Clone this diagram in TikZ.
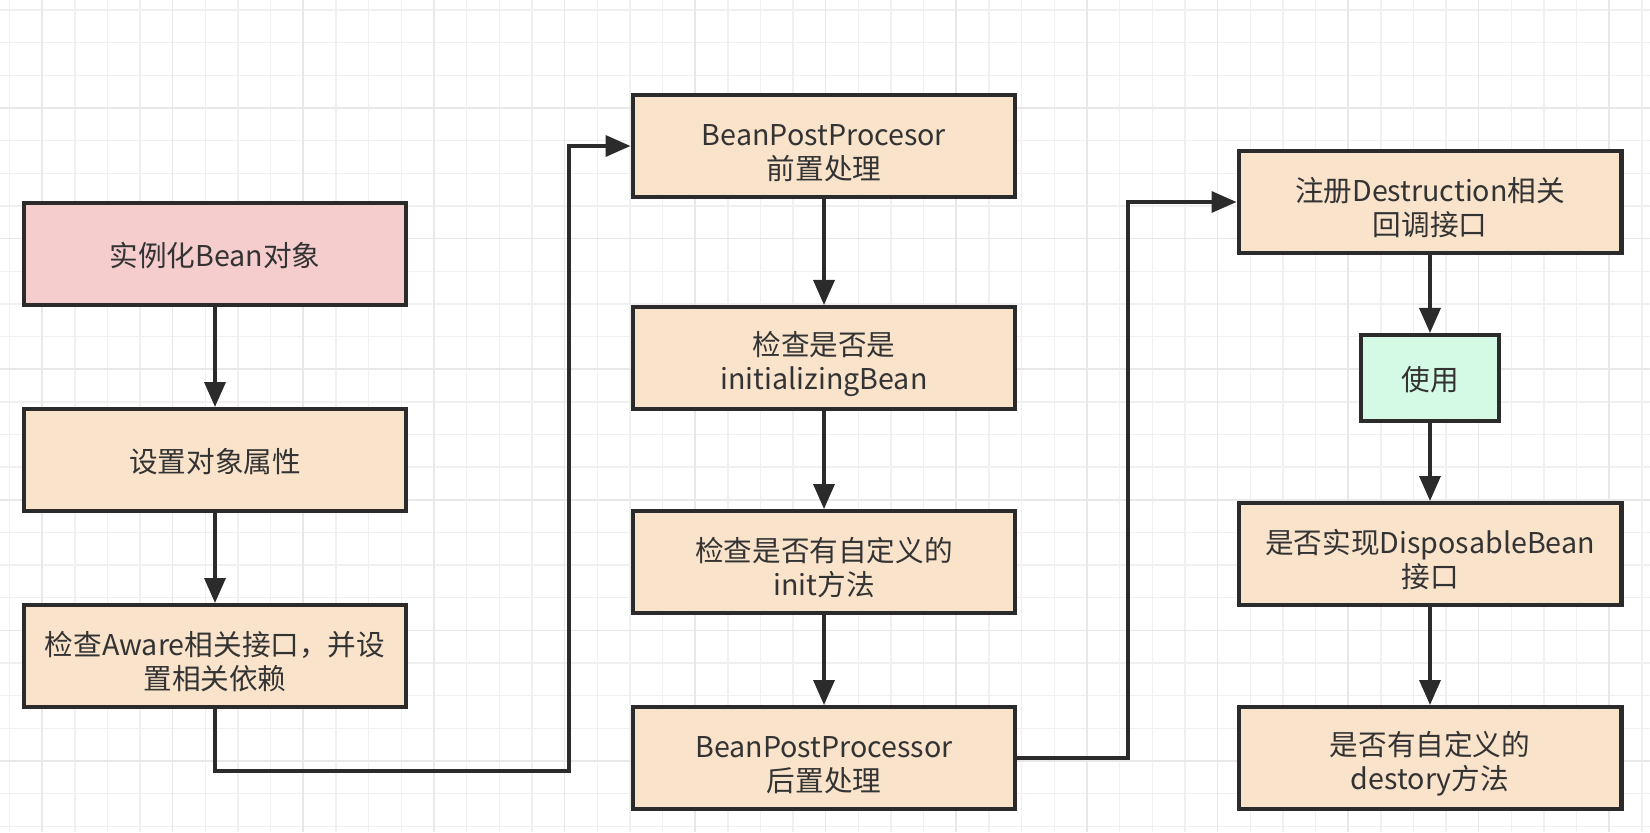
\documentclass[tikz,border=0pt]{standalone}
\usepackage{fontspec}
\setmainfont{Noto Sans CJK SC}
\usepackage{tikz}
\usetikzlibrary{arrows.meta}
\definecolor{peach}{HTML}{F9E3CB}
\definecolor{rose}{HTML}{F5CDCC}
\definecolor{mint}{HTML}{D4F9E4}
\definecolor{boxLine}{HTML}{2B2B2B}
\definecolor{textGray}{HTML}{333333}
\definecolor{gridMinor}{HTML}{F0F0F0}
\definecolor{gridMajor}{HTML}{E8E8E8}
\tikzset{
  every picture/.style={font={\fontsize{16.3pt}{19.5pt}\selectfont}, >={Triangle[length=5mm,width=4.2mm]}}}

\begin{document}
\begin{tikzpicture}[
    x=0.02cm, y=-0.02cm,
    beanBox/.style={
      draw=boxLine, line width=2.3pt,
      fill=peach, text=textGray,
      align=center, inner sep=0pt,
      text height=16pt,
      minimum width=7.66cm,
      minimum height=2.04cm},
    twoLines/.style={text height=40pt},
    startBox/.style={beanBox, fill=rose},
    useBox/.style={beanBox, fill=mint,
      minimum width=2.76cm, minimum height=1.72cm},
    flow/.style={->, draw=boxLine, line width=2pt},
    minorLine/.style={draw=gridMinor, line width=0.8pt},
    majorLine/.style={draw=gridMajor, line width=0.9pt}]

    \useasboundingbox (0,0) rectangle (1650,832);
    \fill[white] (0,0) rectangle (1650,832);

    \foreach \i in {0,...,50}
      \draw[minorLine] ({9.5+32.65*\i},0) -- ++(0,832);
    \foreach \i in {0,...,25}
      \draw[minorLine] (0,{10+32.65*\i}) -- ++(1650,0);
    \foreach \i in {0,...,12}
      \draw[majorLine] ({42+130.6*\i},0) -- ++(0,832);
    \foreach \i in {0,...,6}
      \draw[majorLine] (0,{108+130.6*\i}) -- ++(1650,0);

    \node[startBox] (inst) at (215, 254) {实例化Bean对象};
    \node[beanBox] (props) at (215, 460) {设置对象属性};
    \node[beanBox, twoLines] (aware) at (215, 656) {检查Aware相关接口，并设\\置相关依赖};

    \node[beanBox, twoLines] (preProc) at (824, 146) {BeanPostProcesor\\前置处理};
    \node[beanBox, twoLines] (initBean) at (824, 358) {检查是否是\\initializingBean};
    \node[beanBox, twoLines] (initMethod) at (824, 562) {检查是否有自定义的\\init方法};
    \node[beanBox, twoLines] (postProc) at (824, 758) {BeanPostProcessor\\后置处理};

    \node[beanBox, twoLines] (destr) at (1430, 202) {注册Destruction相关\\回调接口};
    \node[useBox] (use) at (1430, 378) {使用};
    \node[beanBox, twoLines] (dispos) at (1430, 554) {是否实现DisposableBean\\接口};
    \node[beanBox, twoLines] (destroy) at (1430, 758) {是否有自定义的\\destory方法};

    \coordinate (awareTurn) at (569, 771);
    \coordinate (postTurn) at (1128, 758);

    \draw[flow] (inst) -- (props);
    \draw[flow] (props) -- (aware);
    \draw[flow] (aware.south) |- (awareTurn) |- (preProc.west);
    \draw[flow] (preProc) -- (initBean);
    \draw[flow] (initBean) -- (initMethod);
    \draw[flow] (initMethod) -- (postProc);
    \draw[flow] (postProc.east) -- (postTurn) |- (destr.west);
    \draw[flow] (destr) -- (use);
    \draw[flow] (use) -- (dispos);
    \draw[flow] (dispos) -- (destroy);
  \end{tikzpicture}
\end{document}
